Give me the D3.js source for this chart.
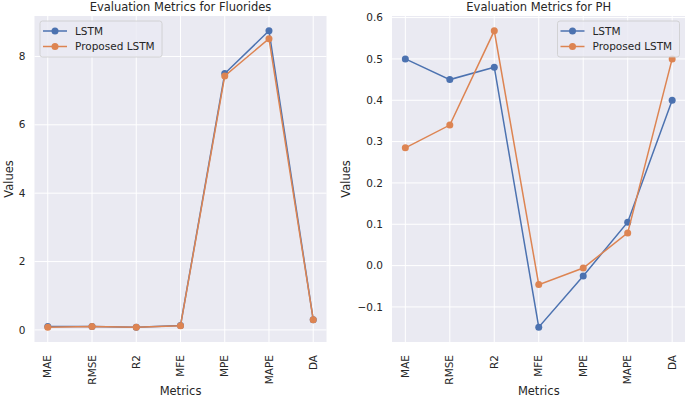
<!DOCTYPE html>
<html><head><meta charset="utf-8">
<script src="https://cdn.jsdelivr.net/npm/d3@7"></script>
<style>body{margin:0;background:#fff}svg{display:block}text{font-family:"DejaVu Sans",sans-serif}</style>
</head><body>
<script>
const metrics = ["MAE","RMSE","R2","MFE","MPE","MAPE","DA"];
const seriesNames = ["LSTM","Proposed LSTM"];
const fluorLSTM = [0.10, 0.10, 0.08, 0.13, 7.50, 8.75, 0.30];
const fluorProposed = [0.08, 0.10, 0.08, 0.12, 7.43, 8.52, 0.30];
const phLSTM = [0.50, 0.45, 0.48, -0.149, -0.025, 0.105, 0.40];
const phProposed = [0.285, 0.34, 0.568, -0.046, -0.006, 0.079, 0.50];
const fluorTicks = [0, 2, 4, 6, 8];
const phTicks = [-0.1, 0.0, 0.1, 0.2, 0.3, 0.4, 0.5, 0.6];
const colors = ["#4c72b0", "#dd8452"];

const W = 685, H = 397;
const svg = d3.select("body").append("svg").attr("width", W).attr("height", H);

function panel(opts) {
  const {x0, x1, y0, y1, title, a, b, ticks, fmt, legendX, legendW, ylabX} = opts;
  const g = svg.append("g");
  g.append("rect").attr("x", x0).attr("y", y0).attr("width", x1 - x0).attr("height", y1 - y0).attr("fill", "#eaeaf2");
  const x = d3.scalePoint().domain(metrics).range([x0, x1]).padding(0.3);
  const all = a.concat(b);
  const mn = d3.min(all), mx = d3.max(all), m = (mx - mn) * 0.05;
  const y = d3.scaleLinear().domain([mn - m, mx + m]).range([y1, y0]);
  // grid
  g.selectAll(".vg").data(metrics).join("line")
    .attr("x1", d => x(d)).attr("x2", d => x(d)).attr("y1", y0).attr("y2", y1)
    .attr("stroke", "#fff").attr("stroke-width", 1);
  g.selectAll(".hg").data(ticks).join("line")
    .attr("x1", x0).attr("x2", x1).attr("y1", d => y(d)).attr("y2", d => y(d))
    .attr("stroke", "#fff").attr("stroke-width", 1);
  // y tick labels
  g.selectAll(".yt").data(ticks).join("text")
    .attr("x", x0 - 9).attr("y", d => y(d)).attr("dy", "0.35em")
    .attr("text-anchor", "end").attr("font-size", 10.5).attr("fill", "#262626")
    .text(d => fmt(d));
  // x tick labels
  g.selectAll(".xt").data(metrics).join("text")
    .attr("transform", d => `translate(${x(d)},${y1 + 13}) rotate(-90)`)
    .attr("dy", "0.35em").attr("text-anchor", "end").attr("font-size", 10.5).attr("fill", "#262626")
    .text(d => d);
  // lines
  const line = d3.line().x((d, i) => x(metrics[i])).y(d => y(d));
  [a, b].forEach((s, k) => {
    g.append("path").datum(s).attr("d", line).attr("fill", "none")
      .attr("stroke", colors[k]).attr("stroke-width", 1.5);
    g.selectAll(".pt" + k).data(s).join("circle")
      .attr("cx", (d, i) => x(metrics[i])).attr("cy", d => y(d)).attr("r", 3.5)
      .attr("fill", colors[k]);
  });
  // title
  g.append("text").attr("x", (x0 + x1) / 2).attr("y", 11).attr("text-anchor", "middle")
    .attr("font-size", 11.5).attr("fill", "#262626").text(title);
  // axis labels
  g.append("text").attr("x", (x0 + x1) / 2).attr("y", 395).attr("text-anchor", "middle")
    .attr("font-size", 11.5).attr("fill", "#262626").text("Metrics");
  g.append("text").attr("transform", `translate(${ylabX},${(y0 + y1) / 2}) rotate(-90)`)
    .attr("text-anchor", "middle").attr("dy", "0.35em")
    .attr("font-size", 11.5).attr("fill", "#262626").text("Values");
  // legend
  const lg = g.append("g").attr("transform", `translate(${legendX},21)`);
  lg.append("rect").attr("width", legendW).attr("height", 36).attr("rx", 2.5)
    .attr("fill", "#eaeaf2").attr("fill-opacity", 0.8).attr("stroke", "#cccccc").attr("stroke-width", 0.8);
  seriesNames.forEach((n, k) => {
    const yy = 10 + k * 15.5;
    lg.append("line").attr("x1", 3).attr("x2", 27).attr("y1", yy).attr("y2", yy)
      .attr("stroke", colors[k]).attr("stroke-width", 1.5);
    lg.append("circle").attr("cx", 15).attr("cy", yy).attr("r", 3.5).attr("fill", colors[k]);
    lg.append("text").attr("x", 35).attr("y", yy).attr("dy", "0.35em")
      .attr("font-size", 10.5).attr("fill", "#262626").text(n);
  });
}

panel({x0: 34.5, x1: 326.5, y0: 16, y1: 342, title: "Evaluation Metrics for Fluorides",
  a: fluorLSTM, b: fluorProposed, ticks: fluorTicks, fmt: d3.format("d"),
  legendX: 40, legendW: 122, ylabX: 9});
panel({x0: 392, x1: 685.5, y0: 16, y1: 342, title: "Evaluation Metrics for PH",
  a: phLSTM, b: phProposed, ticks: phTicks, fmt: d => d3.format(".1f")(d).replace("-", "\u2212"),
  legendX: 557.5, legendW: 122, ylabX: 346});
</script>
</body></html>
